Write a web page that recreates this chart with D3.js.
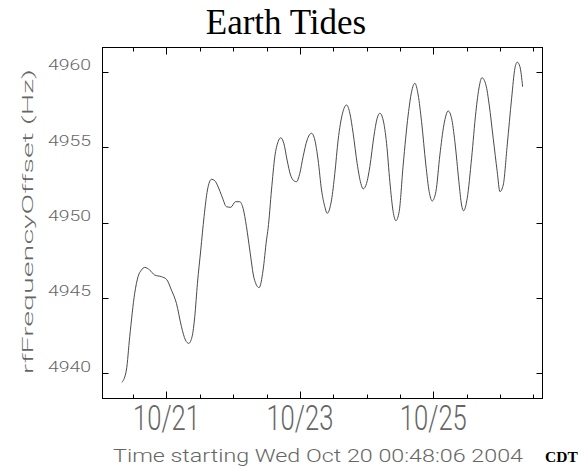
<!DOCTYPE html>
<html>
<head>
<meta charset="utf-8">
<script src="https://cdn.jsdelivr.net/npm/d3@7"></script>
<style>
  html, body { margin: 0; padding: 0; background: #fff; }
  svg { display: block; }
</style>
</head>
<body>
<svg id="chart" width="581" height="466"></svg>
<script>
// Observation window (UTC clock used for the CDT wall time)
const timeStart = "2004-10-20T00:48:06Z";
const spanHours = 158.3;

// Elapsed hours since the start, and the measured RF frequency offset (Hz)
const hours = [
  7.2, 8.78, 9.97, 11.77, 12.96, 14.18, 15.37, 17.17, 18.97, 21.38,
  23.18, 24.98, 26.78, 28.58, 30.02, 31.21, 32.40, 33.37, 34.34, 35.53,
  36.72, 37.94, 39.38, 40.57, 41.76, 43.20, 44.78, 46.33, 48.02, 49.57,
  50.76, 51.98, 53.17, 54.72, 56.52, 57.96, 59.18, 59.76, 60.98, 62.17,
  63.36, 64.33, 65.41, 66.59, 67.82, 68.75, 69.98, 71.17, 72.35, 73.79,
  75.38, 76.57, 77.75, 78.98, 80.17, 81.00, 82.58, 83.77, 84.95, 86.54,
  87.98, 89.17, 90.35, 91.79, 93.12, 93.95, 95.18, 96.36, 97.80, 98.99,
  99.96, 101.15, 102.38, 103.56, 104.75, 105.72, 106.91, 108.35, 110.15, 111.38,
  112.56, 113.75, 114.97, 116.52, 117.71, 118.79, 120.12, 121.56, 123.00, 124.55,
  125.77, 126.96, 128.40, 129.37, 130.09, 131.39, 132.97, 134.52, 135.71, 136.68,
  138.12, 139.31, 140.75, 142.19, 143.16, 144.35, 145.79, 147.37, 148.56, 149.39,
  150.36, 151.33
];
const offsetHz = [
  4939.38, 4940.20, 4942.41, 4945.30, 4946.40, 4946.84, 4947.02, 4946.84, 4946.51, 4946.40,
  4946.23, 4945.51, 4944.63, 4943.08, 4942.19, 4941.97, 4942.41, 4943.74, 4945.96, 4948.17,
  4950.39, 4952.16, 4952.87, 4952.78, 4952.38, 4951.71, 4951.05, 4951.01, 4951.38, 4951.38,
  4950.94, 4949.72, 4948.17, 4946.29, 4945.67, 4946.84, 4948.84, 4949.61, 4952.16, 4954.37,
  4955.37, 4955.63, 4955.26, 4954.15, 4953.16, 4952.82, 4952.71, 4953.27, 4954.37, 4955.48,
  4955.93, 4955.48, 4954.15, 4952.16, 4951.05, 4950.61, 4951.50, 4953.27, 4955.48, 4957.26,
  4957.81, 4957.26, 4955.93, 4953.93, 4952.60, 4952.23, 4952.60, 4953.71, 4955.70, 4956.92,
  4957.26, 4956.81, 4955.26, 4952.71, 4950.72, 4950.12, 4950.72, 4953.82, 4957.14, 4958.69,
  4959.25, 4958.47, 4956.70, 4953.82, 4952.05, 4951.43, 4952.05, 4954.49, 4956.48, 4957.41,
  4956.92, 4955.37, 4952.71, 4951.16, 4950.78, 4951.61, 4954.27, 4957.36, 4959.02, 4959.62,
  4959.14, 4957.81, 4955.59, 4953.38, 4952.05, 4952.49, 4955.15, 4958.25, 4960.25, 4960.65,
  4960.35, 4959.02
];

const yTicks = [4940, 4945, 4950, 4955, 4960];
const yDomain = [4938.34, 4961.66];

const titleText = "Earth Tides";
const yLabel = "rfFrequencyOffset (Hz)";
const xLabel = "Time starting Wed Oct 20 00:48:06 2004";
const zoneLabel = "CDT";

const svg = d3.select("#chart");
const plot = { left: 102, right: 542, top: 47, bottom: 398 };

const t0 = new Date(timeStart);
const tEnd = new Date(t0.getTime() + spanHours * 3600e3);

const x = d3.scaleTime().domain([t0, tEnd]).range([plot.left, plot.right]);
const y = d3.scaleLinear().domain(yDomain).range([plot.bottom, plot.top]);

const points = hours.map((h, i) => ({ t: new Date(t0.getTime() + h * 3600e3), v: offsetHz[i] }));

const labelFont = "Roboto, 'DejaVu Sans', sans-serif";
const labelColor = "#666";

// Title
svg.append("text")
  .attr("x", 286).attr("y", 34)
  .attr("text-anchor", "middle")
  .attr("font-family", "'Liberation Serif', 'Times New Roman', serif")
  .attr("font-size", 35)
  .attr("fill", "#000")
  .text(titleText);

// Data line
svg.append("path")
  .datum(points)
  .attr("fill", "none")
  .attr("stroke", "#4a4a4a")
  .attr("stroke-width", 1)
  .attr("d", d3.line().x(d => x(d.t)).y(d => y(d.v)).curve(d3.curveMonotoneX));

// Frame
svg.append("rect")
  .attr("x", plot.left + 0.5).attr("y", plot.top + 0.5)
  .attr("width", plot.right - plot.left).attr("height", plot.bottom - plot.top)
  .attr("fill", "none").attr("stroke", "#000").attr("stroke-width", 1);

// Time ticks every 12 h, longer at labelled days
const timeTicks = d3.utcHour.every(12).range(t0, tEnd);
const isMajor = d => d.getUTCHours() === 0 && d.getUTCDate() % 2 === 1;
const fmtDay = d3.utcFormat("%m/%d");

const tickG = svg.append("g").attr("stroke", "#000").attr("stroke-width", 1);
timeTicks.forEach(d => {
  const px = Math.round(x(d)) + 0.5;
  const len = isMajor(d) ? 7 : 4;
  tickG.append("line").attr("x1", px).attr("x2", px)
    .attr("y1", plot.bottom + 0.5).attr("y2", plot.bottom + 0.5 - len);
  tickG.append("line").attr("x1", px).attr("x2", px)
    .attr("y1", plot.top + 0.5).attr("y2", plot.top + 0.5 + len);
});

// Frequency ticks on both sides
yTicks.forEach(v => {
  const py = Math.round(y(v)) + 0.5;
  tickG.append("line").attr("x1", plot.left + 0.5).attr("x2", plot.left + 6.5)
    .attr("y1", py).attr("y2", py);
  tickG.append("line").attr("x1", plot.right + 0.5).attr("x2", plot.right - 5.5)
    .attr("y1", py).attr("y2", py);
});

// Frequency labels
svg.append("g").selectAll("text").data(yTicks).join("text")
  .attr("x", 91).attr("y", d => y(d) - 1.5)
  .attr("text-anchor", "end")
  .attr("font-family", labelFont).attr("font-weight", 300)
  .attr("font-size", 15.5)
  .attr("fill", labelColor)
  .attr("textLength", 43).attr("lengthAdjust", "spacingAndGlyphs")
  .text(d => d);

// Day labels
svg.append("g").selectAll("text").data(timeTicks.filter(isMajor)).join("text")
  .attr("x", d => x(d)).attr("y", 430)
  .attr("text-anchor", "middle")
  .attr("font-family", labelFont).attr("font-weight", 300)
  .attr("font-size", 35)
  .attr("fill", labelColor)
  .attr("textLength", 67).attr("lengthAdjust", "spacingAndGlyphs")
  .text(d => fmtDay(d));

// Axis titles
svg.append("text")
  .attr("transform", "translate(33,374) rotate(-90)")
  .attr("font-family", labelFont).attr("font-weight", 300)
  .attr("font-size", 15.5)
  .attr("fill", labelColor)
  .attr("textLength", 305).attr("lengthAdjust", "spacingAndGlyphs")
  .text(yLabel);

svg.append("text")
  .attr("x", 113).attr("y", 462)
  .attr("font-family", labelFont).attr("font-weight", 300)
  .attr("font-size", 18)
  .attr("fill", labelColor)
  .attr("textLength", 410).attr("lengthAdjust", "spacingAndGlyphs")
  .text(xLabel);

svg.append("text")
  .attr("x", 545).attr("y", 462)
  .attr("font-family", "'Liberation Serif', 'Times New Roman', serif")
  .attr("font-weight", "bold")
  .attr("font-size", 15.5)
  .attr("fill", "#000")
  .text(zoneLabel);
</script>
</body>
</html>
